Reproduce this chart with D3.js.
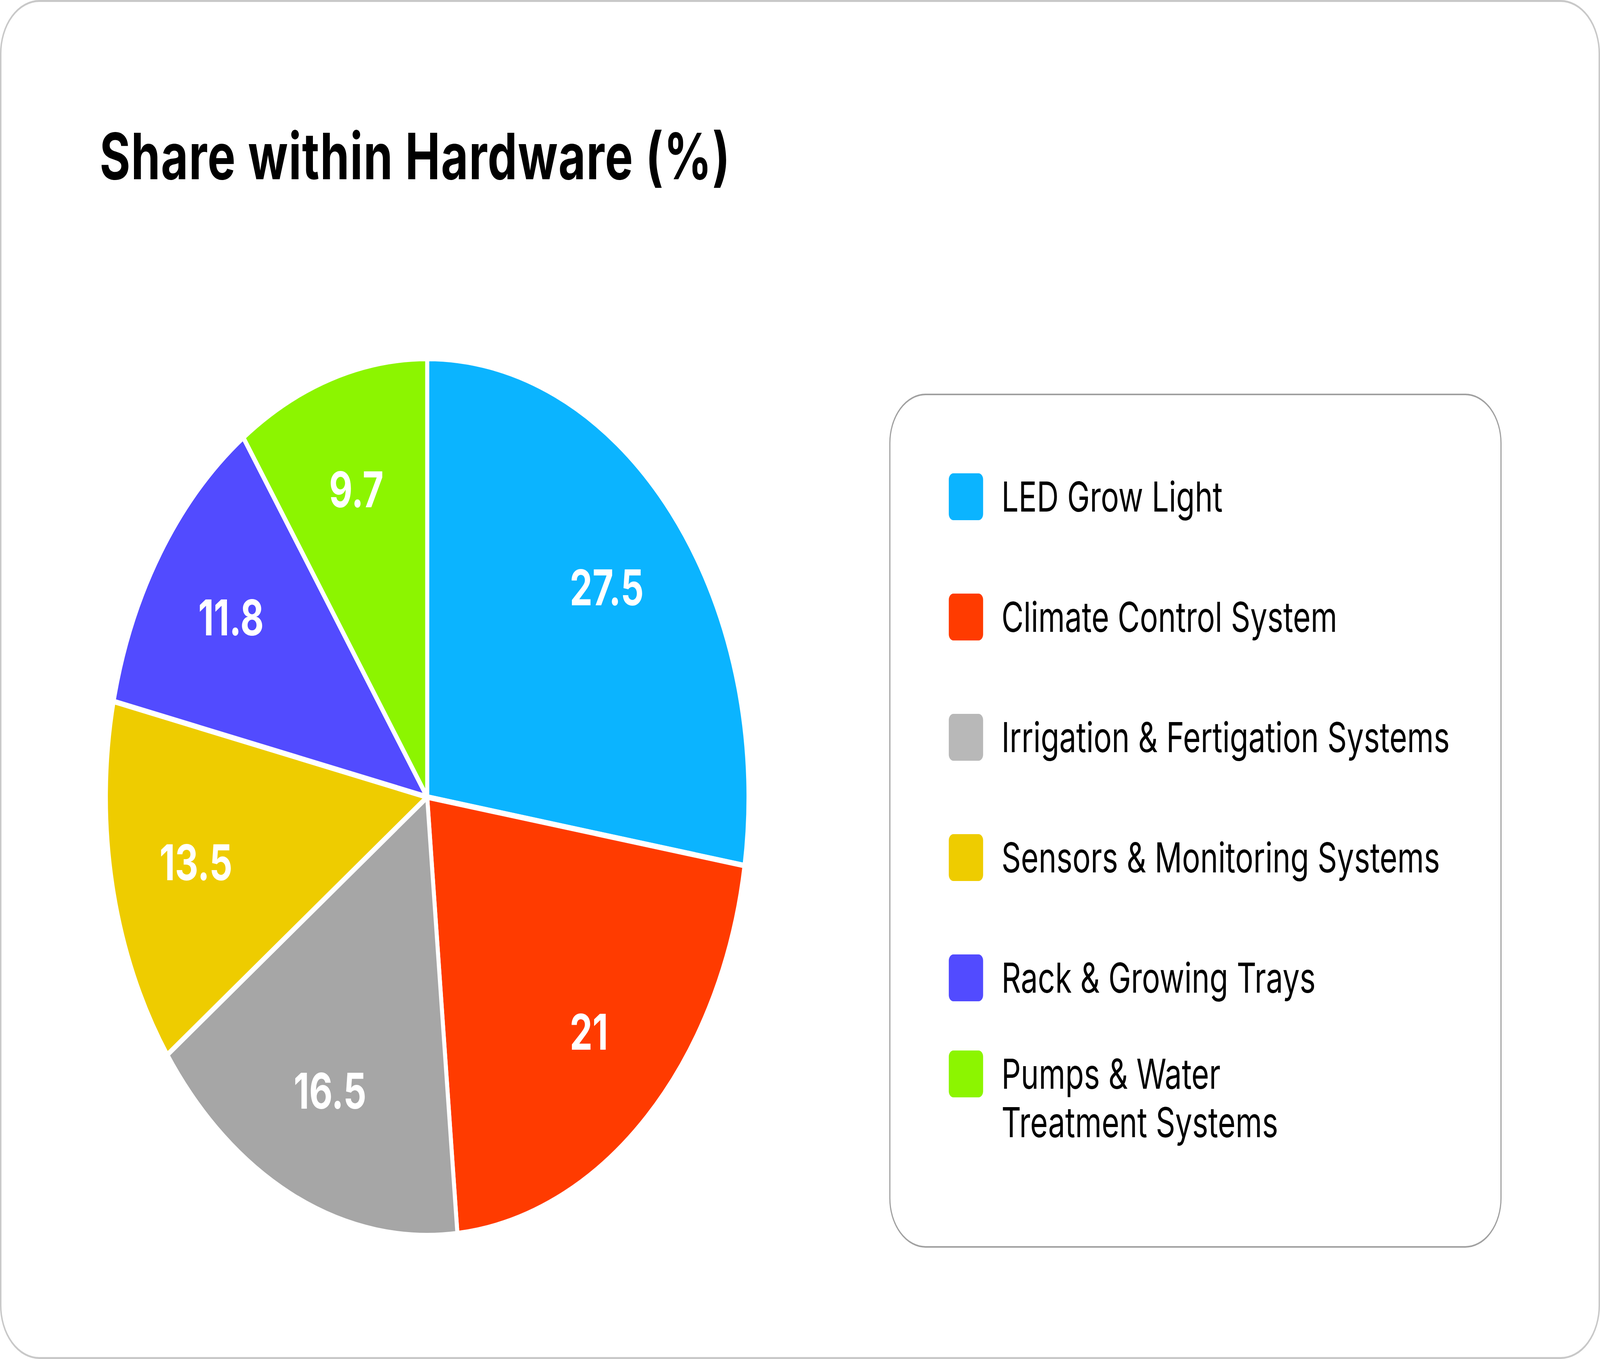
<!DOCTYPE html>
<html>
<head>
<meta charset="utf-8">
<script src="https://cdn.jsdelivr.net/npm/d3@7"></script>
<style>
  html, body { margin: 0; padding: 0; background: #fff; overflow: hidden; }
  svg { display: block; width: 100vw; height: 100vh; }
  text { font-family: Inter, "Noto Sans", sans-serif; }
</style>
</head>
<body>
<div id="chart"></div>
<script>
// data
var categories = [
  "LED Grow Light",
  "Climate Control System",
  "Irrigation & Fertigation Systems",
  "Sensors & Monitoring Systems",
  "Rack & Growing Trays",
  "Pumps & Water Treatment Systems"
];
var values = [27.5, 21, 16.5, 13.5, 11.8, 9.7];
var labels = ["27.5", "21", "16.5", "13.5", "11.8", "9.7"];
// legend text split into lines
var legendLines = [
  ["LED Grow Light"],
  ["Climate Control System"],
  ["Irrigation & Fertigation Systems"],
  ["Sensors & Monitoring Systems"],
  ["Rack & Growing Trays"],
  ["Pumps & Water", "Treatment Systems"]
];
var colors = ["#0bb4ff", "#ff3b00", "#a6a6a6", "#eecc00", "#524bff", "#8cf500"];
var legendColors = ["#0bb4ff", "#ff3b00", "#b8b8b8", "#eecc00", "#524bff", "#8cf500"];

// drawing is done in a 5592 x 3480 space, scaled to the window
var W = 5592, H = 3480;

var svg = d3.select("#chart")
  .append("svg")
  .attr("viewBox", "0 0 " + W + " " + H)
  .attr("preserveAspectRatio", "none");

// card
svg.append("rect")
  .attr("x", 2.5)
  .attr("y", 2.5)
  .attr("width", W - 5)
  .attr("height", H - 5)
  .attr("rx", 135)
  .attr("fill", "#fff")
  .attr("stroke", "#c8c8c8")
  .attr("stroke-width", 5);

// title
svg.append("text")
  .attr("x", 348)
  .attr("y", 459)
  .text("Share within Hardware (%)")
  .style("font-size", "164px")
  .style("font-weight", 700)
  .style("letter-spacing", "2.5px")
  .style("fill", "#000");

// pie
var cx = 1493, cy = 2041, r = 1123;

var pie = d3.pie().sort(null).value(function (d) { return d; });
var arcs = pie(values);

var arc = d3.arc().innerRadius(0).outerRadius(r);
var labelArc = d3.arc().innerRadius(r * 0.735).outerRadius(r * 0.735);

var g = svg.append("g")
  .attr("transform", "translate(" + cx + "," + cy + ")");

g.selectAll("path")
  .data(arcs)
  .enter()
  .append("path")
  .attr("d", arc)
  .attr("fill", function (d, i) { return colors[i]; })
  .attr("stroke", "#fff")
  .attr("stroke-width", 14)
  .attr("stroke-linejoin", "round");

g.selectAll("text.value")
  .data(arcs)
  .enter()
  .append("text")
  .attr("class", "value")
  .attr("transform", function (d) {
    return "translate(" + labelArc.centroid(d) + ")";
  })
  .attr("text-anchor", "middle")
  .attr("dy", "0.36em")
  .text(function (d, i) { return labels[i]; })
  .style("font-size", "126px")
  .style("font-weight", 700)
  .style("fill", "#fff");

// legend box
var lx = 3110, ly = 1010, lw = 2136, lh = 2183;
svg.append("rect")
  .attr("x", lx)
  .attr("y", ly)
  .attr("width", lw)
  .attr("height", lh)
  .attr("rx", 125)
  .attr("fill", "#fff")
  .attr("stroke", "#a0a0a0")
  .attr("stroke-width", 4);

// each item sits in a 308px slot, text block centred on the slot
var slotFirst = 1272, slotStep = 308, lineH = 124, sw = 120;

var items = svg.append("g")
  .selectAll("g")
  .data(categories)
  .enter()
  .append("g")
  .attr("transform", function (d, i) {
    var c = slotFirst + i * slotStep - (legendLines[i].length - 1) * lineH / 2;
    return "translate(0," + c + ")";
  });

items.append("rect")
  .attr("x", 3316)
  .attr("y", -sw / 2)
  .attr("width", sw)
  .attr("height", sw)
  .attr("rx", 16)
  .attr("fill", function (d, i) { return legendColors[i]; });

items.append("text")
  .attr("x", 3500)
  .attr("y", 38)
  .style("font-size", "106px")
  .style("font-weight", 400)
  .style("fill", "#000")
  .selectAll("tspan")
  .data(function (d, i) { return legendLines[i]; })
  .enter()
  .append("tspan")
  .attr("x", 3500)
  .attr("dy", function (d, j) { return j === 0 ? 0 : lineH; })
  .text(function (d) { return d; });
</script>
</body>
</html>
